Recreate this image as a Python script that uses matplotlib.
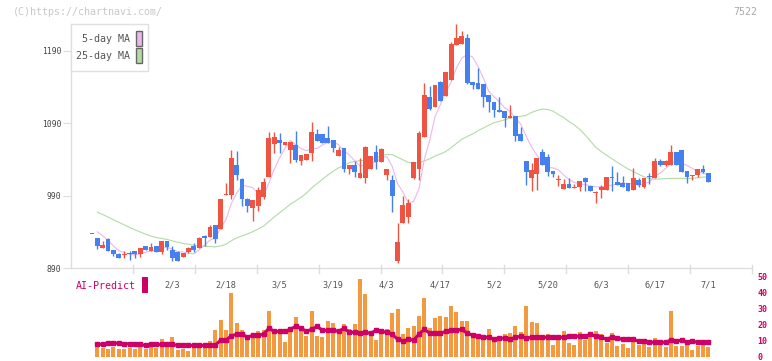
import numpy as np
import pandas as pd
import matplotlib
matplotlib.use("Agg")
import matplotlib.pyplot as plt
from matplotlib.patches import Rectangle

# 株価データ (読み取り値)
opens = [937, 932, 918, 930, 915, 909, 908, 911, 914, 909, 920, 914, 920, 912, 927, 915, 912, 905, 912, 920,
         917, 934, 933, 950, 944, 991, 991, 1032, 1013, 985, 973, 976, 988, 1016, 1061, 1067, 1060, 1053, 1060, 1038,
         1039, 1049, 1075, 1075, 1070, 1067, 1045, 1056, 1027, 1032, 1015, 1014, 1027, 1050, 1036, 1019, 1012, 900, 952, 961,
         1014, 1027, 1071, 1126, 1113, 1147, 1128, 1150, 1198, 1200, 1208, 1147, 1146, 1144, 1129, 1120, 1109, 1107, 1097, 1100,
         1075, 1038, 1015, 1020, 1050, 1044, 1024, 1011, 999, 1006, 1001, 1002, 1014, 1004, 993, 998, 998, 1016, 1009, 1007,
         1007, 998, 1012, 1002, 1017, 1014, 1038, 1032, 1032, 1050, 1053, 1024, 1017, 1019, 1027, 1021]
highs = [937, 932, 927, 931, 915, 911, 914, 914, 914, 917, 921, 925, 921, 927, 927, 920, 914, 911, 919, 924,
         933, 935, 950, 950, 985, 1007, 1053, 1052, 1014, 987, 984, 1002, 1015, 1078, 1078, 1076, 1064, 1064, 1079, 1046,
         1048, 1092, 1082, 1075, 1086, 1067, 1057, 1056, 1032, 1038, 1042, 1059, 1045, 1060, 1056, 1027, 1018, 952, 989, 986,
         1037, 1079, 1146, 1142, 1143, 1149, 1161, 1202, 1227, 1218, 1214, 1147, 1167, 1144, 1129, 1120, 1127, 1107, 1116, 1100,
         1085, 1038, 1035, 1042, 1054, 1047, 1024, 1018, 1013, 1015, 1006, 1010, 1016, 1004, 996, 1005, 1016, 1031, 1023, 1017,
         1007, 1028, 1014, 1014, 1021, 1042, 1041, 1039, 1060, 1050, 1053, 1024, 1019, 1027, 1032, 1022]
lows = [937, 916, 918, 914, 906, 904, 904, 901, 904, 905, 915, 914, 912, 909, 915, 900, 900, 905, 911, 912,
        917, 920, 933, 924, 944, 991, 985, 1011, 976, 968, 955, 969, 985, 1016, 1049, 1049, 1060, 1035, 1036, 1032,
        1039, 1038, 1066, 1063, 1063, 1050, 1045, 1023, 1020, 1016, 1015, 1007, 1027, 1027, 1036, 1012, 967, 897, 952, 952,
        1013, 1011, 1071, 1108, 1113, 1121, 1128, 1150, 1198, 1200, 1144, 1138, 1138, 1113, 1106, 1099, 1106, 1085, 1097, 1065,
        1066, 1005, 996, 998, 1032, 1017, 1016, 1004, 999, 1001, 1001, 997, 997, 996, 980, 987, 998, 997, 1005, 1002,
        996, 998, 1002, 1000, 1006, 1014, 1031, 1031, 1032, 1032, 1023, 1007, 1011, 1016, 1022, 1009]
closes = [937, 920, 922, 914, 909, 904, 909, 909, 909, 917, 915, 919, 912, 927, 919, 904, 900, 911, 918, 915,
          932, 931, 947, 930, 985, 992, 1042, 1019, 985, 976, 984, 998, 1009, 1070, 1071, 1063, 1064, 1064, 1039, 1046,
          1048, 1078, 1066, 1063, 1063, 1056, 1053, 1027, 1032, 1023, 1021, 1057, 1045, 1036, 1055, 1027, 990, 926, 977, 980,
          1037, 1077, 1129, 1110, 1143, 1121, 1161, 1200, 1208, 1211, 1146, 1143, 1138, 1126, 1119, 1109, 1106, 1098, 1100, 1073,
          1066, 1023, 1025, 1042, 1032, 1023, 1020, 1012, 1006, 1001, 1002, 1010, 1009, 996, 994, 1002, 1016, 1014, 1005, 1002,
          996, 1014, 1005, 1014, 1016, 1038, 1032, 1038, 1050, 1032, 1023, 1016, 1017, 1027, 1023, 1009]
# 表示期間より前の終値 (移動平均の推定用)
prev_closes = [1000, 1005, 998, 1002, 995, 992, 1000, 990, 996, 988, 985,
               965, 958, 952, 955, 948, 950, 945, 952, 948, 955, 950, 945, 948]

date_idx = [15, 25, 35, 45, 55, 65, 75, 85, 95, 105, 115]
date_labels = ["2/3", "2/18", "3/5", "3/19", "4/3", "4/17", "5/2", "5/20", "6/3", "6/17", "7/1"]
price_ticks = [890, 990, 1090, 1190]

# AI-Predict
ai_bars = [7.8, 5.9, 4.9, 6.1, 4.9, 4.9, 5.5, 4.9, 6.8, 4.9, 6.8, 5.5, 11.1, 6.8, 12.3, 4.3, 4.9, 3.7, 6.8, 6.8,
           6.8, 9.8, 16.6, 23.4, 16.6, 40.1, 21.2, 16.6, 11.1, 14.8, 16.0, 16.6, 28.4, 17.3, 16.6, 9.2, 16.0, 24.7, 17.9, 12.9,
           28.4, 12.9, 12.3, 22.2, 21.0, 14.2, 20.3, 17.3, 20.3, 48.7, 39.5, 13.6, 10.5, 16.6, 17.3, 27.3, 30.2, 14.2,
           17.9, 19.1, 25.3, 37.0, 17.9, 24.1, 25.3, 24.7, 32.1, 27.8, 22.2, 22.2, 12.9, 11.7, 12.3, 17.3, 10.5, 11.7,
           14.2, 14.8, 19.1, 15.6, 32.1, 21.6, 21.0, 11.7, 14.2, 7.4, 11.7, 16.0, 8.6, 7.4, 15.4, 10.5, 15.4, 16.0,
           14.2, 8.6, 14.8, 6.8, 8.0, 5.5, 10.5, 7.4, 10.5, 6.1, 11.7, 7.4, 6.1, 28.4, 6.8, 6.8, 8.0, 4.3, 6.8, 7.4, 6.1]
ai_line = [7.8, 8.0, 8.6, 8.6, 8.6, 8.0, 8.4, 8.0, 7.8, 7.2, 8.0, 7.8, 7.8, 7.8, 7.8, 7.2, 7.2, 7.2, 7.2, 7.2,
           7.2, 7.2, 7.4, 10.5, 10.5, 13.2, 14.2, 14.2, 12.3, 13.6, 13.6, 14.2, 17.9, 16.0, 16.0, 16.0, 17.3, 19.1, 17.9, 16.0,
           17.3, 19.1, 16.6, 16.6, 16.6, 16.0, 17.9, 15.4, 15.4, 14.8, 15.4, 14.8, 16.6, 16.0, 15.4, 14.2, 11.1, 9.8,
           11.1, 10.5, 14.2, 17.3, 14.8, 14.8, 14.8, 16.0, 16.6, 16.6, 17.3, 14.8, 13.6, 12.9, 12.3, 12.3, 11.1, 11.7,
           11.7, 11.1, 12.3, 12.9, 11.7, 12.3, 12.3, 12.3, 12.3, 12.3, 12.3, 12.3, 12.9, 12.9, 12.9, 12.9, 14.2, 12.9,
           12.3, 11.1, 12.3, 11.7, 11.1, 11.1, 11.1, 9.8, 9.8, 9.2, 9.2, 9.2, 9.2, 10.5, 9.8, 10.5, 9.2, 9.8, 9.2, 9.2, 9.2]
ai_ticks = [0, 10, 20, 30, 40, 50]

RED = "#EF5442"
BLUE = "#4480EE"
CRIMSON = "#CC0066"
MONO = "DejaVu Sans Mono"

W, H = 772, 361
fig = plt.figure(figsize=(W / 100, H / 100), dpi=100)


def fx(x):
    return x / W


def fy(y):
    return 1 - y / H


# ---- メインチャート ----
ax = fig.add_axes([fx(71), fy(268), fx(752) - fx(71), fy(24) - fy(268)])
ax.set_xlim((71 - 92) / 5.36, (752 - 92) / 5.36)
ax.set_ylim(890, 890 + (268 - 24) * 300 / 217)

o = np.array(opens, float)
h = np.array(highs, float)
l = np.array(lows, float)
c = np.array(closes, float)
idx = np.arange(len(c))

s = pd.Series(prev_closes + closes, dtype=float)
ma5 = s.rolling(5).mean().values[-len(c):]
ma25 = s.rolling(25).mean().values[-len(c):]
ax.plot(idx[1:], ma25[1:], color="#B3DBA6", lw=0.8, zorder=1)
ax.plot(idx[1:], ma5[1:], color="#EBB8EC", lw=0.8, zorder=1)

cols = [RED if cc >= oo else BLUE for oo, cc in zip(o, c)]
ax.vlines(idx, l, h, colors=cols, lw=1, zorder=2)
ax.bar(idx, np.maximum(np.abs(c - o), 1.4), bottom=np.minimum(o, c), width=0.9,
       color=cols, zorder=3)

for sp in ["top", "right"]:
    ax.spines[sp].set_visible(False)
for sp in ["left", "bottom"]:
    ax.spines[sp].set_color("#DDDDDD")
    ax.spines[sp].set_linewidth(1)
ax.set_yticks(price_ticks)
ax.set_yticklabels([str(v) for v in price_ticks], fontsize=5.8, family=MONO, color="#444444")
ax.tick_params(axis="y", length=6, color="#DDDDDD", pad=1)
ax.set_xticks(date_idx)
ax.set_xticklabels(date_labels, fontsize=6.2, family=MONO, color="#555555")
ax.tick_params(axis="x", length=0, pad=9)
for k in range(1, 12):
    ax.plot([k / 11, k / 11], [-0.02, 0.012], transform=ax.transAxes,
            color="#DDDDDD", lw=1, clip_on=False)

# 凡例
fig.add_artist(Rectangle((fx(71), fy(71)), fx(148) - fx(71), fy(24) - fy(71),
                         transform=fig.transFigure, facecolor="white",
                         edgecolor="#E0E0E0", lw=1, zorder=5))
for yy, name, col in [(39, "5-day MA", "#EBB8EC"), (56, "25-day MA", "#B3DBA6")]:
    fig.text(fx(130), fy(yy), name, ha="right", va="center", fontsize=7.2,
             family=MONO, color="#555555", zorder=6)
    fig.add_artist(Rectangle((fx(136), fy(yy + 7)), fx(6), 15 / H,
                             transform=fig.transFigure, facecolor=col,
                             edgecolor="#666666", lw=1, zorder=6))

fig.text(fx(13), fy(12), "(C)https://chartnavi.com/", ha="left", va="center",
         fontsize=7.2, family=MONO, color="#C8C8C8")
fig.text(fx(757), fy(12), "7522", ha="right", va="center", fontsize=7.2,
         family=MONO, color="#AAAAAA")

# ---- AI-Predict ----
ax2 = fig.add_axes([fx(71), 0, fx(752) - fx(71), fy(270)])
ax2.set_xlim(ax.get_xlim())
ax2.set_ylim(-2.5, 54.3)
pos = np.arange(1, len(ai_bars) + 1)
ax2.bar(pos, ai_bars, width=0.75, color="#F39A40", zorder=1)
ax2.plot(pos, ai_line, color=CRIMSON, lw=2.2, marker="s", ms=2.6, zorder=2)
ax2.patch.set_visible(False)
for sp in ax2.spines.values():
    sp.set_visible(False)
ax2.set_xticks([])
ax2.yaxis.tick_right()
ax2.set_yticks(ai_ticks)
ax2.set_yticklabels([str(v) for v in ai_ticks], fontsize=6.0, family=MONO,
                    color=CRIMSON, fontweight="bold")
ax2.tick_params(axis="y", length=0, pad=4)

fig.text(fx(76), fy(286), "AI-Predict", ha="left", va="center", fontsize=7.2,
         family=MONO, color=CRIMSON)
fig.add_artist(Rectangle((fx(142), fy(293)), fx(6), 16 / H,
                         transform=fig.transFigure, facecolor=CRIMSON,
                         edgecolor="none"))

fig.savefig("out.png", dpi=100)
